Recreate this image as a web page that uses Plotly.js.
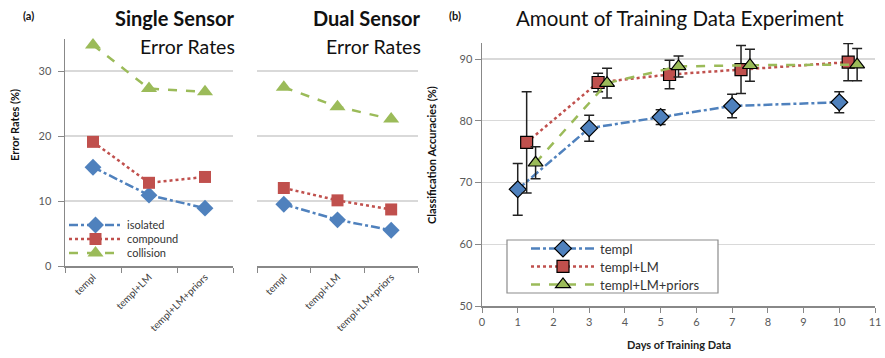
<!DOCTYPE html>
<html>
<head>
<meta charset="utf-8">
<script src="https://cdn.plot.ly/plotly-3.0.1.min.js"></script>
<style>html,body{margin:0;padding:0;background:#fff;}#chart{width:885px;height:358px;}</style>
</head>
<body>
<div id="chart"></div>
<script>
// ---- Data ----
const categories = ["templ", "templ+LM", "templ+LM+priors"];
const singleIsolated = [15.2, 10.9, 8.9];
const singleCompound = [19.1, 12.8, 13.7];
const singleCollision = [34.0, 27.3, 26.8];
const dualIsolated = [9.5, 7.1, 5.5];
const dualCompound = [12.0, 10.1, 8.7];
const dualCollision = [27.5, 24.5, 22.6];

const templDays = [1, 3, 5, 7, 10];
const templAcc = [68.9, 78.8, 80.6, 82.4, 83.0];
const templErr = [4.2, 2.1, 1.2, 1.9, 1.7];
const lmDays = [1.25, 3.25, 5.25, 7.25, 10.25];
const lmAcc = [76.5, 86.2, 87.5, 88.3, 89.5];
const lmErr = [8.2, 1.5, 2.3, 3.9, 3.0];
const priorsDays = [1.5, 3.5, 5.5, 7.5, 10.5];
const priorsAcc = [73.2, 86.1, 88.8, 89.0, 89.1];
const priorsErr = [2.6, 2.4, 1.7, 2.6, 2.6];
const dayTicks = [0,1,2,3,4,5,6,7,8,9,10,11];

// ---- Styles ----
const BLUE = "#4F81BD", RED = "#C0504D", GREEN = "#9BBB59";
const FONT = "Lato, 'Liberation Sans', sans-serif";
const W = 885, H = 358;
const px = x => x / W, py = y => 1 - y / H;

function aTrace(x, y, name, color, dash, symbol, size, xa, ya, leg) {
  return {x: x, y: y, name: name, type: "scatter", mode: "lines+markers",
    xaxis: xa, yaxis: ya, showlegend: !!leg, legend: leg || "legend", cliponaxis: false,
    line: {color: color, dash: dash, width: 2.5},
    marker: {color: color, symbol: symbol, size: size}};
}
function bTrace(x, y, err, name, color, dash, symbol, size, leg) {
  return {x: x, y: y, name: name, type: "scatter", mode: "lines+markers",
    xaxis: "x3", yaxis: "y3", legend: leg, cliponaxis: false,
    line: {color: color, dash: dash, width: 2.5},
    marker: {color: color, symbol: symbol, size: size, line: {color: "#000", width: 1.2}},
    error_y: {type: "data", array: err, visible: true, color: "#222", thickness: 1.5, width: 5}};
}

const data = [
  aTrace(categories, singleIsolated, "isolated", BLUE, "dashdot", "diamond", 13, "x", "y", "legend"),
  aTrace(categories, singleCompound, "compound", RED, "dot", "square", 12, "x", "y", "legend3"),
  aTrace(categories, singleCollision, "collision", GREEN, "dash", "triangle-up", 14, "x", "y", "legend4"),
  aTrace(categories, dualIsolated, "isolated", BLUE, "dashdot", "diamond", 13, "x2", "y2", null),
  aTrace(categories, dualCompound, "compound", RED, "dot", "square", 12, "x2", "y2", null),
  aTrace(categories, dualCollision, "collision", GREEN, "dash", "triangle-up", 14, "x2", "y2", null),
  bTrace(templDays, templAcc, templErr, "templ", BLUE, "dashdot", "diamond", 13, "legend2"),
  bTrace(lmDays, lmAcc, lmErr, "templ+LM", RED, "dot", "square", 12, "legend5"),
  bTrace(priorsDays, priorsAcc, priorsErr, "templ+LM+priors", GREEN, "dash", "triangle-up", 13, "legend6")
];

const yDomA = [py(266), py(38.5)];
const tickFont = {family: FONT, size: 11, color: "#595959"};
const catFont = {family: FONT, size: 10, color: "#404040"};

function legA(rowY) {
  return {x: px(64), y: py(rowY - 14.5), xanchor: "left", yanchor: "top",
    bgcolor: "rgba(0,0,0,0)", borderwidth: 0, font: {family: FONT, size: 11, color: "#333"},
    itemwidth: 53};
}
function legB(rowY) {
  return {x: px(526), y: py(rowY - 14.5), xanchor: "left", yanchor: "top",
    bgcolor: "rgba(0,0,0,0)", borderwidth: 0, font: {family: FONT, size: 13, color: "#333"},
    itemwidth: 64};
}
function ann(text, x, y, size, xanchor, extra) {
  return Object.assign({text: text, x: px(x), y: py(y), xref: "paper", yref: "paper",
    xanchor: xanchor, yanchor: "middle", showarrow: false,
    font: {family: FONT, size: size, color: "#111"}}, extra || {});
}

const layout = {
  width: W, height: H,
  margin: {l: 0, r: 0, t: 0, b: 0},
  paper_bgcolor: "#fff", plot_bgcolor: "rgba(0,0,0,0)",
  font: {family: FONT, color: "#222"},
  xaxis: {domain: [px(65), px(233)], type: "category", range: [-0.5, 2.5],
    tickangle: -45, tickfont: catFont, tickson: "boundaries", ticks: "outside", ticklen: 5,
    tickcolor: "#888", showline: true, linecolor: "#888", linewidth: 1.5, showgrid: false,
    zeroline: false, anchor: "y"},
  yaxis: {domain: yDomA, range: [0, 35], tickvals: [0, 10, 20, 30], tickfont: tickFont,
    ticks: "outside", ticklen: 6, tickcolor: "#888", showline: true, linecolor: "#888",
    linewidth: 1.5, showgrid: true, gridcolor: "#d9d9d9", gridwidth: 1.2, zeroline: false,
    anchor: "x", ticklabelstandoff: 4},
  xaxis2: {domain: [px(257), px(418)], type: "category", range: [-0.5, 2.5],
    tickangle: -45, tickfont: catFont, tickson: "boundaries", ticks: "outside", ticklen: 5,
    tickcolor: "#888", showline: true, linecolor: "#888", linewidth: 1.5, showgrid: false,
    zeroline: false, anchor: "y2"},
  yaxis2: {domain: yDomA, range: [0, 35], tickvals: [0, 10, 20, 30], showticklabels: false,
    ticks: "", showline: false, showgrid: true, gridcolor: "#d9d9d9", gridwidth: 1.2,
    zeroline: false, anchor: "x2"},
  xaxis3: {domain: [px(482), px(875)], range: [0, 11], tickvals: dayTicks, tickfont: tickFont,
    ticks: "outside", ticklen: 5, tickcolor: "#888", showline: true, linecolor: "#888",
    linewidth: 1.5, showgrid: false, zeroline: false, anchor: "y3"},
  yaxis3: {domain: [py(306), py(43)], range: [50, 92.6], tickvals: [50, 60, 70, 80, 90],
    tickfont: tickFont, ticks: "outside", ticklen: 6, tickcolor: "#888", showline: true,
    linecolor: "#888", linewidth: 1.5, showgrid: true, gridcolor: "#d9d9d9", gridwidth: 1.2,
    zeroline: false, anchor: "x3"},
  legend: legA(225), legend3: legA(239), legend4: legA(253),
  legend2: legB(248), legend5: legB(266), legend6: legB(284),
  showlegend: true,
  shapes: [
    {type: "rect", xref: "paper", yref: "paper", x0: px(507), x1: px(718), y0: py(293), y1: py(240),
      line: {color: "#8c8c8c", width: 1.2}, fillcolor: "#fff", layer: "above"}
  ],
  annotations: [
    ann("<b>(a)</b>", 28, 15, 11, "center"),
    ann("<b>Single Sensor</b>", 237, 18, 20, "right"),
    ann("Error Rates", 237, 46, 19.5, "right"),
    ann("<b>Dual Sensor</b>", 423, 18, 20, "right"),
    ann("Error Rates", 423, 46, 19.5, "right"),
    ann("<b>Error Rates (%)</b>", 14, 125, 11, "center", {textangle: -90}),
    ann("<b>(b)</b>", 455, 15, 11, "center"),
    ann("Amount of Training Data Experiment", 680, 18, 20.5, "center"),
    ann("<b>Classification Accuracies (%)</b>", 431, 155, 11, "center", {textangle: -90}),
    ann("<b>Days of Training Data</b>", 679, 344, 11, "center", {font: {family: FONT, size: 11, color: "#222"}})
  ]
};

Plotly.newPlot("chart", data, layout, {staticPlot: true, displayModeBar: false});
</script>
</body>
</html>
